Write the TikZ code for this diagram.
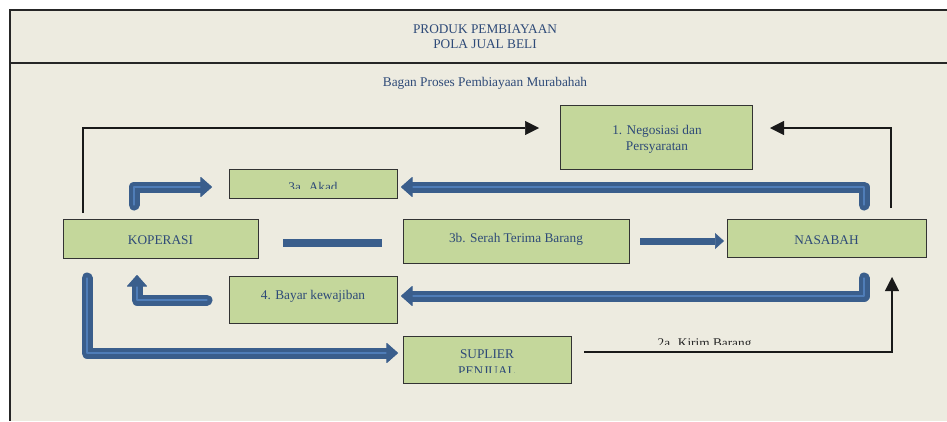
\documentclass[tikz,border=0pt]{standalone}
\usepackage{fontspec}
\setmainfont{Liberation Serif}
\usetikzlibrary{arrows.meta}
\definecolor{bgbeige}{HTML}{EDEBE0}
\definecolor{boxfill}{HTML}{C4D79B}
\definecolor{txtblue}{HTML}{2E4A78}
\definecolor{bluedark}{HTML}{3A5E8C}
\definecolor{bluelight}{HTML}{4F7DB8}
\begin{document}
\begin{tikzpicture}[x=1pt,y=-1pt,
  box/.style={draw=black!80, line width=1pt, fill=boxfill, inner sep=0pt, anchor=north west},
  lbl/.style={text=txtblue, font=\fontsize{13.3}{16}\selectfont, anchor=base, inner sep=0pt},
  blk/.style={draw=black!90, line width=1.5pt, -{Triangle[width=14pt,length=14pt,line width=0.5pt]}},
  fat/.style={draw=bluedark, line width=11pt, line join=round, line cap=round,
     -{Triangle[width=21pt,length=12pt,line width=1pt,round]}},
  hilite/.style={draw=bluelight, line width=1.2pt, line join=round, line cap=round},
  flat/.style={draw=bluedark, line cap=butt}
]
\useasboundingbox (0,0) rectangle (947,421);
% frame
\fill[white] (0,0) rectangle (947,421);
\fill[bgbeige] (10,10) rectangle (947,421);
\draw[black!85, line width=1.5pt] (947,10) -- (10,10) -- (10,421);
\draw[black!85, line width=1.2pt] (10,63) -- (947,63);
% titles
\node[lbl] (t1) at (485,33) {PRODUK PEMBIAYAAN};
\node[lbl] (t2) at (485,48) {POLA JUAL BELI};
\node[lbl] (t3) at (485,86) {Bagan Proses Pembiayaan Murabahah};
% boxes
\node[box, minimum width=192pt, minimum height=64pt] (neg) at (560,105) {};
\node[box, minimum width=168pt, minimum height=29pt] (akad) at (229,169) {};
\node[box, minimum width=195pt, minimum height=39pt] (kop) at (63,219) {};
\node[box, minimum width=226pt, minimum height=44pt] (serah) at (403,219) {};
\node[box, minimum width=199pt, minimum height=38pt] (nas) at (727,219) {};
\node[box, minimum width=168pt, minimum height=47pt] (bayar) at (229,276) {};
\node[box, minimum width=168pt, minimum height=47pt] (sup) at (403,336) {};
% labels
\node[lbl] (tneg1) at (657,134) {1. Negosiasi dan};
\node[lbl] (tneg2) at (657,150) {Persyaratan};
\begin{scope}
  \clip (229,169) rectangle (397,188);
  \node[lbl] (takad) at (313,191.6) {3a. Akad};
\end{scope}
\node[lbl] (tkop) at (160.5,244) {KOPERASI};
\node[lbl] (tserah) at (516,242) {3b. Serah Terima Barang};
\node[lbl] (tnas) at (826.5,244) {NASABAH};
\node[lbl] (tbayar) at (313,299) {4. Bayar kewajiban};
\node[lbl] (tsup1) at (487,358) {SUPLIER};
\begin{scope}
  \clip (403,360) rectangle (571,372);
  \node[lbl] (tsup2) at (487,375) {PENJUAL};
\end{scope}
\begin{scope}
  \clip (600,330) rectangle (800,344);
  \node[lbl, text=black!85] (tkirim) at (704.5,347.5) {2a. Kirim Barang};
\end{scope}
% black connectors
\coordinate (kopTop) at (83,213);
\coordinate (nasTop) at (891,208);
\coordinate (nasBot) at (892,277);
\coordinate (supR) at (584,352);
\draw[blk] (kopTop) -- (kopTop |- 0,128) -- (539,128);
\draw[blk] (nasTop) -- (nasTop |- 0,128) -- (770,128);
\draw[blk] (supR) -- (892,352) -- (nasBot);
\draw[black!90, line width=2.3pt] (supR) -- (638,352);
% blue elbow arrows
\draw[fat] (134,205) -- (134,187) -- (212,187);
\draw[hilite] (134,205) -- (134,187) -- (200,187);
\draw[fat] (864,205) -- (864,187) -- (401,187);
\draw[hilite] (864,205) -- (864,187) -- (413,187);
\draw[fat] (864,278) -- (864,296) -- (401,296);
\draw[hilite] (864,278) -- (864,296) -- (413,296);
\draw[fat] (207,300) -- (137,300) -- (137,275);
\draw[hilite] (207,300) -- (137,300) -- (137,287);
\draw[fat] (87,278) -- (87,353) -- (398,353);
\draw[hilite] (87,278) -- (87,353) -- (386,353);
% straight blue
\draw[flat, line width=8pt] (283,243) -- (382,243);
\draw[flat, line width=7pt, -{Triangle[width=16pt,length=9pt,line width=0.5pt]}] (640,241) -- (724,241);
\end{tikzpicture}
\end{document}
